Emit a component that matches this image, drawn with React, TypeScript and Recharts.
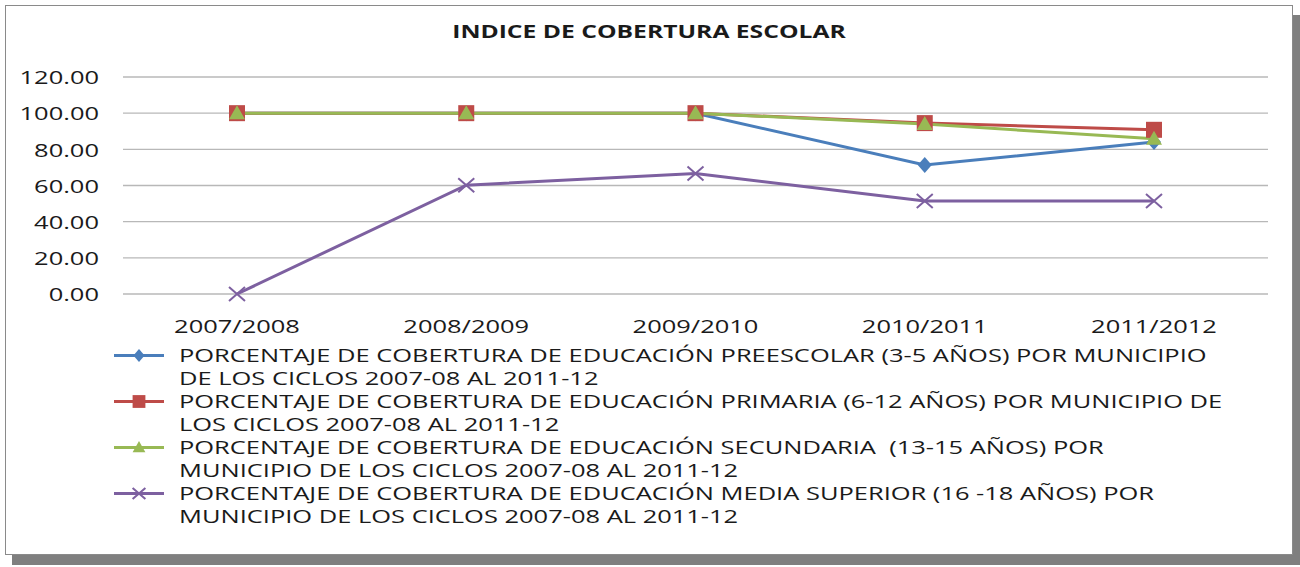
import React from 'react';
import { LineChart, Line, XAxis, YAxis, CartesianGrid } from 'recharts';

const ciclos = ['2007/2008', '2008/2009', '2009/2010', '2010/2011', '2011/2012'];
const preescolar = [100, 100, 100, 71.3, 84];
const primaria = [100, 100, 100, 94.5, 90.8];
const secundaria = [100, 100, 100, 94, 85.8];
const mediaSuperior = [0, 60.2, 66.6, 51.4, 51.4];
const yTicks = [0, 20, 40, 60, 80, 100, 120];

const legendLines = [
  ['PORCENTAJE DE COBERTURA DE EDUCACIÓN PREESCOLAR (3-5 AÑOS) POR MUNICIPIO', 'DE LOS CICLOS 2007-08 AL 2011-12'],
  ['PORCENTAJE DE COBERTURA DE EDUCACIÓN PRIMARIA (6-12 AÑOS) POR MUNICIPIO DE', 'LOS CICLOS 2007-08 AL 2011-12'],
  ['PORCENTAJE DE COBERTURA DE EDUCACIÓN SECUNDARIA  (13-15 AÑOS) POR', 'MUNICIPIO DE LOS CICLOS 2007-08 AL 2011-12'],
  ['PORCENTAJE DE COBERTURA DE EDUCACIÓN MEDIA SUPERIOR (16 -18 AÑOS) POR', 'MUNICIPIO DE LOS CICLOS 2007-08 AL 2011-12'],
];

const data = ciclos.map((c, i) => ({
  ciclo: c,
  preescolar: preescolar[i],
  primaria: primaria[i],
  secundaria: secundaria[i],
  media: mediaSuperior[i],
}));

const BLUE = '#4a7ebb';
const RED = '#be4b48';
const GREEN = '#98b954';
const PURPLE = '#7d60a0';
const FONT = '"Open Sans", sans-serif';
const TEXT = '#1a1a1a';
// the source picture is stretched sideways, so text is widened to match
const SX = 1.34;

type Mk = 'diamond' | 'square' | 'triangle' | 'x';

const marker = (kind: Mk, cx: number, cy: number, color: string, s = 1) => {
  if (kind === 'diamond')
    return <path d={`M${cx},${cy - 8 * s}L${cx + 7 * s},${cy}L${cx},${cy + 8 * s}L${cx - 7 * s},${cy}Z`} fill={color} />;
  if (kind === 'square')
    return <rect x={cx - 8 * s} y={cy - 8 * s} width={16 * s} height={16 * s} fill={color} />;
  if (kind === 'triangle')
    return <path d={`M${cx},${cy - 8 * s}L${cx + 8 * s},${cy + 6 * s}L${cx - 8 * s},${cy + 6 * s}Z`} fill={color} />;
  return (
    <path
      d={`M${cx - 8 * s},${cy - 7 * s}L${cx + 8 * s},${cy + 7 * s}M${cx - 8 * s},${cy + 7 * s}L${cx + 8 * s},${cy - 7 * s}`}
      stroke={color}
      strokeWidth={2}
      fill="none"
    />
  );
};

const dotFor = (kind: Mk, color: string) => (p: any) => (
  <g key={`${kind}-${p.index}`}>{marker(kind, p.cx, p.cy, color)}</g>
);

const series: { key: string; color: string; kind: Mk }[] = [
  { key: 'preescolar', color: BLUE, kind: 'diamond' },
  { key: 'primaria', color: RED, kind: 'square' },
  { key: 'secundaria', color: GREEN, kind: 'triangle' },
  { key: 'media', color: PURPLE, kind: 'x' },
];

const WideTick = (anchor: 'end' | 'middle', fmt: (v: any) => string, dx: number, dy: number) => (p: any) => {
  const x = p.x + dx;
  const { y, payload } = p;
  return (
    <text
      x={x}
      y={y + dy}
      textAnchor={anchor}
      dominantBaseline="central"
      fill={TEXT}
      fontSize={19}
      fontFamily={FONT}
      transform={`translate(${x},0) scale(${SX},1) translate(${-x},0)`}
    >
      {fmt(payload.value)}
    </text>
  );
};

export default function App() {
  return (
    <div style={{ position: 'absolute', left: 0, top: 0, width: 1300, height: 567, background: '#fff' }}>
      <div
        style={{
          position: 'absolute',
          left: 5,
          top: 5,
          width: 1286,
          height: 548,
          border: '1px solid #8a8a8a',
          boxShadow: '7px 10px 0 #7f7f7f',
          background: '#fff',
          fontFamily: FONT,
        }}
      >
        <div
          style={{
            position: 'absolute',
            left: 0,
            width: 1286,
            top: 14,
            textAlign: 'center',
            fontWeight: 700,
            fontSize: 17,
            color: TEXT,
            transform: 'scaleX(1.45)',
            transformOrigin: 'center',
          }}
        >
          INDICE DE COBERTURA ESCOLAR
        </div>
        <div style={{ position: 'absolute', left: 0, top: 0 }}>
          <LineChart width={1286} height={340} data={data} margin={{ top: 71, right: 24, bottom: 12, left: 7 }}>
            <CartesianGrid vertical={false} stroke="#b8b8b8" strokeWidth={1.3} />
            <XAxis
              dataKey="ciclo"
              axisLine={false}
              tickLine={false}
              height={40}
              padding={{ left: 114, right: 114 }}
              tick={WideTick('middle', (v) => String(v), 0, 24)}
            />
            <YAxis
              domain={[0, 120]}
              ticks={yTicks}
              width={110}
              axisLine={false}
              tickLine={false}
              tick={WideTick('end', (v: number) => Number(v).toFixed(2), -16, 0)}
            />
            {series.map((s) => (
              <Line
                key={s.key}
                dataKey={s.key}
                stroke={s.color}
                strokeWidth={3}
                type="linear"
                dot={dotFor(s.kind, s.color)}
                activeDot={false}
                isAnimationActive={false}
              />
            ))}
          </LineChart>
        </div>
        <div style={{ position: 'absolute', left: 107, top: 338, color: TEXT, fontSize: 19, lineHeight: '23px' }}>
          {series.map((s, i) => (
            <div key={s.key} style={{ position: 'relative', paddingLeft: 66 }}>
              <svg width={52} height={23} style={{ position: 'absolute', left: 0, top: 0 }}>
                <line x1={1} y1={11.5} x2={51} y2={11.5} stroke={s.color} strokeWidth={3} />
                {marker(s.kind, 26, 11.5, s.color, 0.8)}
              </svg>
              {legendLines[i].map((t, j) => (
                <div key={j} style={{ whiteSpace: 'pre', transform: `scaleX(${SX})`, transformOrigin: 'left' }}>
                  {t}
                </div>
              ))}
            </div>
          ))}
        </div>
      </div>
    </div>
  );
}
